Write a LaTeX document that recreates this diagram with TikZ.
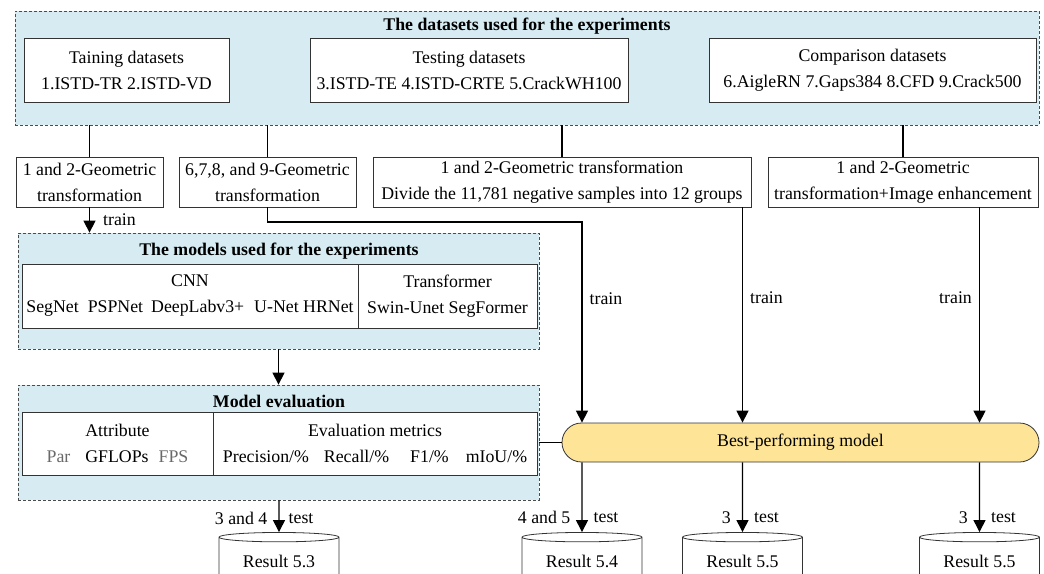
\documentclass[tikz,border=0pt]{standalone}
\usepackage{fontspec}
\setmainfont{Liberation Serif}
\usetikzlibrary{positioning,arrows.meta,shapes.geometric}
\definecolor{setblue}{RGB}{214,236,242}
\definecolor{pillgold}{RGB}{254,228,150}
\definecolor{dimgray}{RGB}{105,105,105}
\tikzset{
    box/.style={draw=black!80, line width=0.8pt, fill=white, inner sep=0pt, align=center},
    group/.style={draw=black!70, dash pattern=on 3pt off 2pt, line width=0.8pt, fill=setblue, inner sep=0pt},
    heading/.style={font=\fontsize{17.8}{26}\selectfont\bfseries, inner sep=0pt},
    pillbox/.style={draw=black!80, line width=0.8pt, fill=pillgold, rounded corners=19.5pt, inner sep=0pt},
    db/.style={cylinder, shape border rotate=90, aspect=0.13, draw=black!80, line width=0.8pt, fill=white, inner sep=0pt, minimum width=120pt, minimum height=52pt},
    flow/.style={line width=1.3pt, -{Triangle[width=12pt,length=12pt]}},
    link/.style={line width=1.3pt},
    lbl/.style={inner sep=0pt}
}
\newcommand{\gap}[1]{\hspace{#1pt}}

\begin{document}
\begin{tikzpicture}[x=1pt, y=-1pt, font=\fontsize{17.8}{26}\selectfont]
    \useasboundingbox (0,0) rectangle (1044,573);
    \node[group, minimum width=1024pt, minimum height=114pt](datasets) at (527,68){};
    \node[heading](datasetsT) at (527,26){The datasets used for the experiments};
    \node[box, minimum width=205pt, minimum height=64pt](trainset) at (126.5,70){Taining datasets\\1.ISTD-TR 2.ISTD-VD};
    \node[box, minimum width=318pt, minimum height=64pt](testset) at (469,70){Testing datasets\\3.ISTD-TE 4.ISTD-CRTE 5.CrackWH100};
    \node[box, minimum width=327pt, minimum height=64pt](compset) at (872.5,70){Comparison datasets\\6.AigleRN 7.Gaps384 8.CFD 9.Crack500};
    \node[box, minimum width=147pt, minimum height=50pt](geoA) at (89.5,182){1 and 2-Geometric\\transformation};
    \node[box, minimum width=177pt, minimum height=50pt](geoB) at (267.5,182){6,7,8, and 9-Geometric\\transformation};
    \node[box, minimum width=378pt, minimum height=50pt](geoC) at (562,182){1 and 2-Geometric transformation\\Divide the 11,781 negative samples into 12 groups};
    \node[box, minimum width=270pt, minimum height=50pt](geoD) at (903,182){1 and 2-Geometric\\transformation+Image enhancement};
    \node[group, minimum width=521pt, minimum height=116pt](models) at (278.5,291){};
    \node[heading](modelsT) at (279,251){The models used for the experiments};
    \node[box, minimum width=336pt, minimum height=64pt](cnn) at (190,296){CNN\\SegNet\gap{9}PSPNet\gap{8}DeepLabv3+\gap{10}U-Net HRNet};
    \node[box, minimum width=179pt, minimum height=64pt](trans) at (447.5,296){Transformer\\Swin-Unet SegFormer};
    \node[group, minimum width=521pt, minimum height=115pt](evalgrp) at (278.5,442.5){};
    \node[heading](evalT) at (279,401){Model evaluation};
    \node[box, minimum width=191pt, minimum height=63pt](attr) at (117.5,443.5){Attribute\\{\color{dimgray}Par}\gap{15}GFLOPs\gap{10}{\color{dimgray}FPS}};
    \node[box, minimum width=324pt, minimum height=63pt](metric) at (375,443.5){Evaluation metrics\\Precision/\%\gap{15}Recall/\%\gap{21}F1/\%\gap{17}mIoU/\%};
    \node[pillbox, minimum width=477pt, minimum height=39pt](pill) at (800.5,442.5){Best-performing model};
    \node[db](res53) at (279,561){Result 5.3};
    \node[db](res54) at (582,561){Result 5.4};
    \node[db](res55a) at (742.5,561){Result 5.5};
    \node[db](res55b) at (979.5,561){Result 5.5};
    \coordinate (bendB) at (582,222);
    \draw[link](datasets.south -| geoA)--(geoA); \draw[link](datasets.south -| geoB)--(geoB);
    \draw[link](datasets.south -| geoC)--(geoC); \draw[link](datasets.south -| geoD)--(geoD);
    \draw[flow](geoA)--(geoA |- models.north) node[lbl, midway, right=13pt]{train};
    \draw[flow](geoB)|-(bendB)--(bendB |- pill.north) node[lbl, pos=.38, right=7pt]{train};
    \draw[flow](geoC.south -| res55a)--(res55a |- pill.north) node[lbl, pos=.42, right=7pt]{train};
    \draw[flow](geoD.south -| res55b)--(res55b |- pill.north) node[lbl, pos=.42, left=7pt]{train};
    \draw[flow](models)--(evalgrp); \draw[link](evalgrp)--(pill);
    \draw[flow](evalgrp.south -| res53)--(res53.north) node[lbl, pos=.57, left=11pt]{3 and 4} node[lbl, pos=.57, right=9pt]{test};
    \draw[flow](pill.south -| res54)--(res54.north) node[lbl, pos=.79, left=11pt]{4 and 5} node[lbl, pos=.79, right=11pt]{test};
    \draw[flow](pill.south -| res55a)--(res55a.north) node[lbl, pos=.79, left=11pt]{3} node[lbl, pos=.79, right=11pt]{test};
    \draw[flow](pill.south -| res55b)--(res55b.north) node[lbl, pos=.79, left=11pt]{3} node[lbl, pos=.79, right=11pt]{test};
\end{tikzpicture}
\end{document}
